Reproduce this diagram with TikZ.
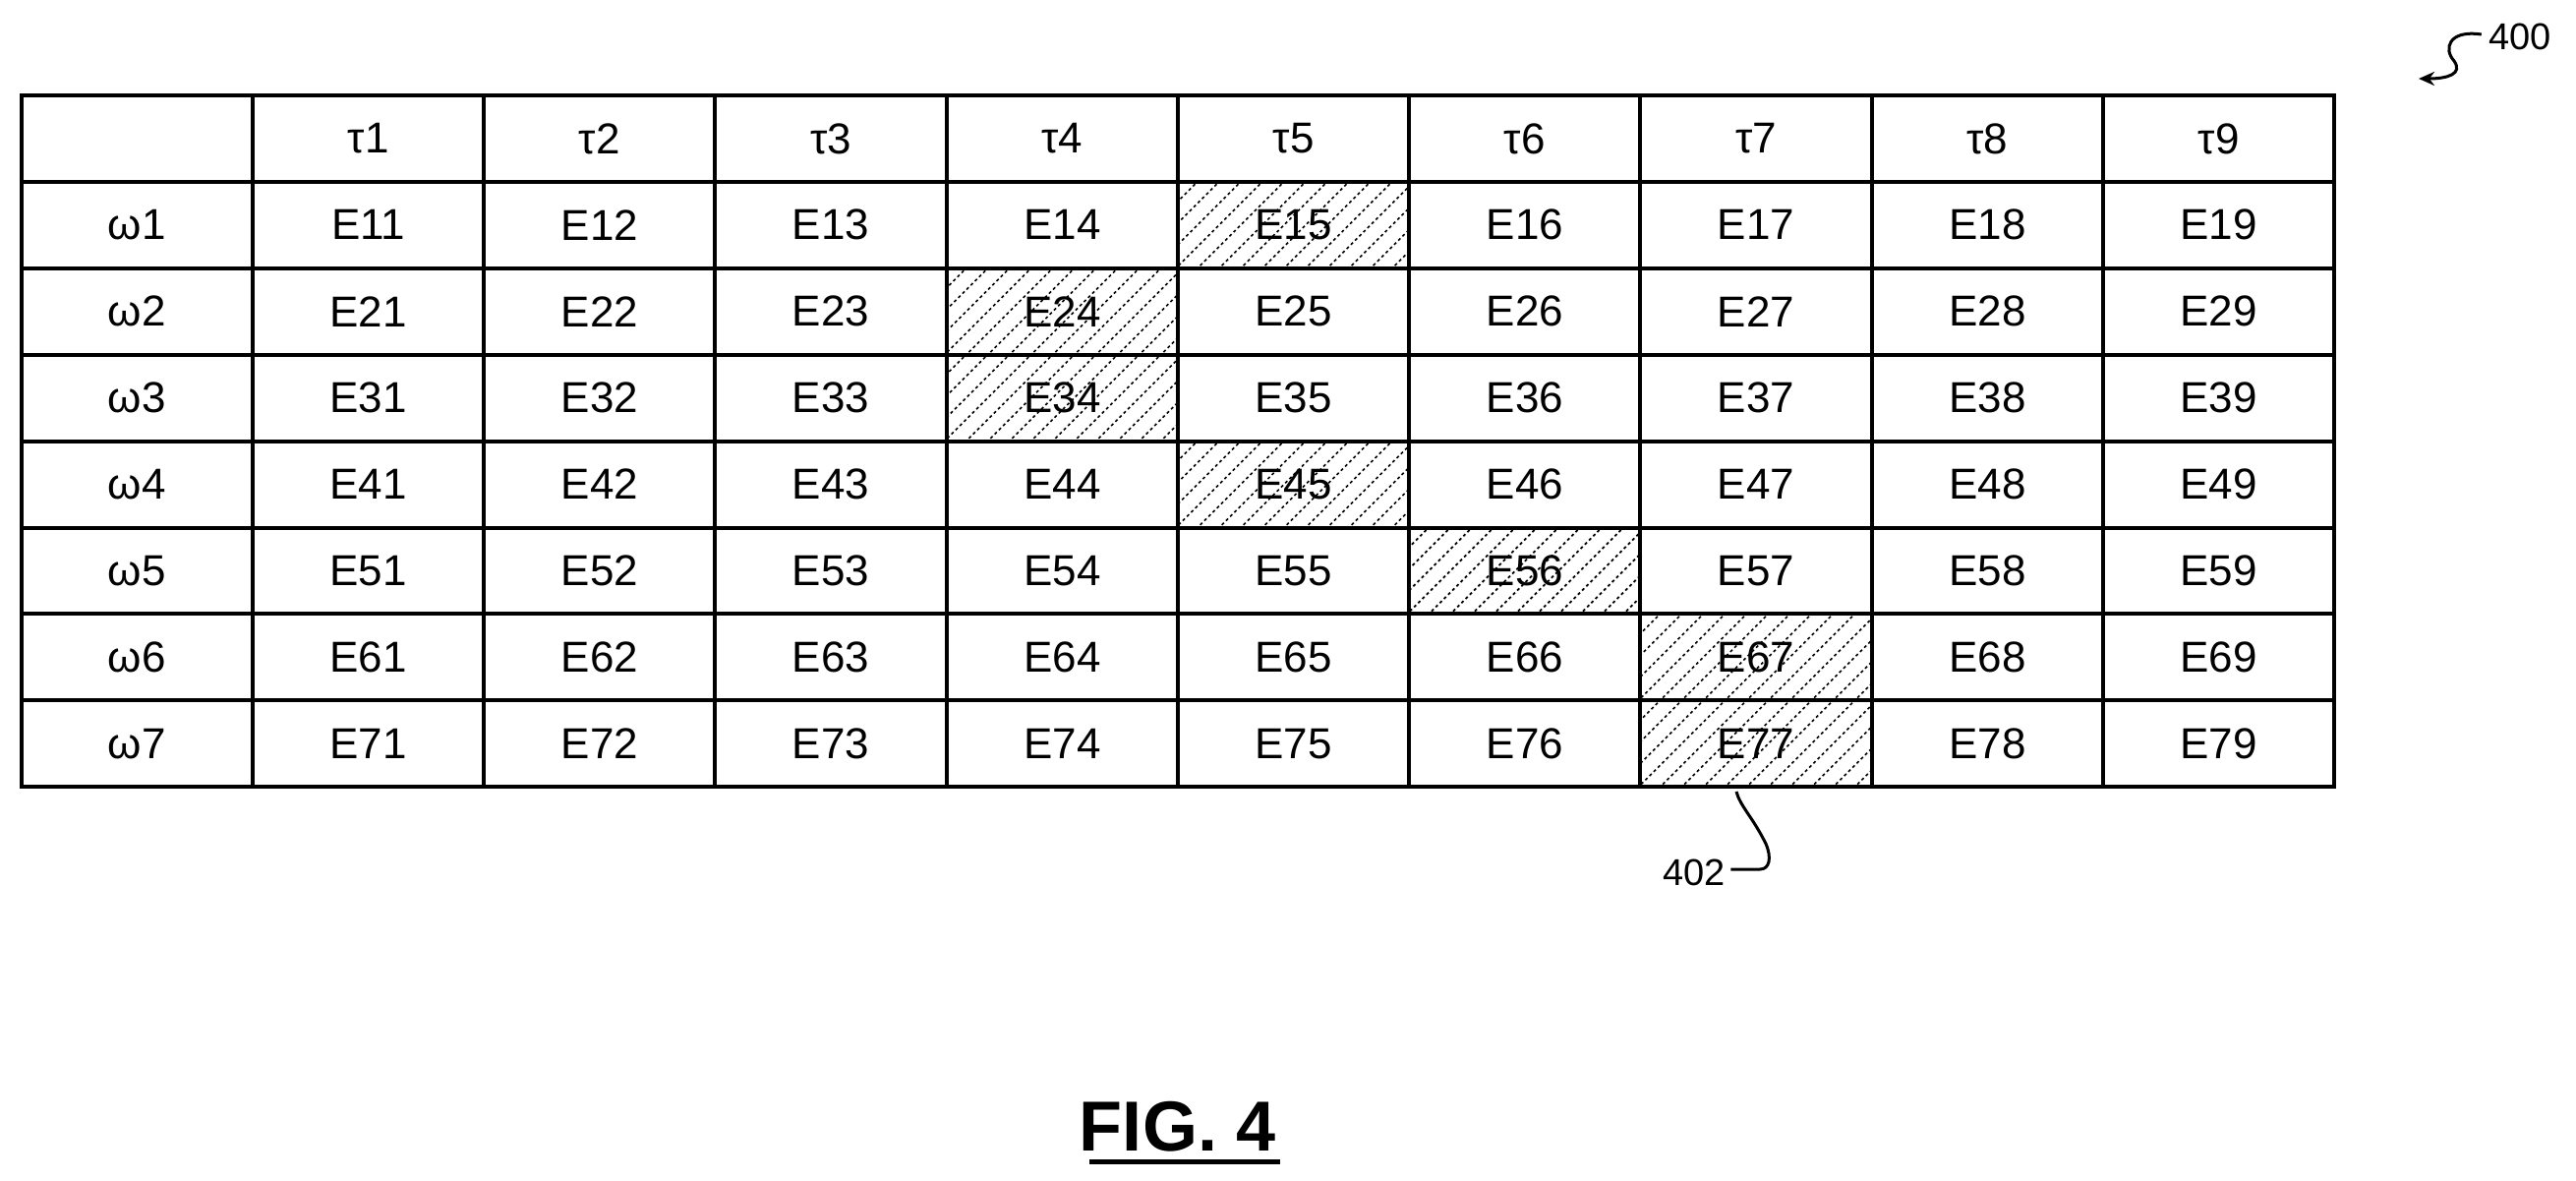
\documentclass[tikz,border=0pt]{standalone}
\usepackage{fontspec}
\setmainfont{Liberation Sans}
\usetikzlibrary{arrows.meta}
\begin{document}
\begin{tikzpicture}[x=1pt,y=-1pt,
  cell/.style={font=\fontsize{44}{48}\selectfont},
  grid/.style={line width=4pt},
  hatch/.style={line width=1.6pt,dash pattern=on 3pt off 3pt},
  lead/.style={line width=3pt}]
\useasboundingbox (0,0) rectangle (2620,1201);
\def\X{21.7}\def\Y{97}\def\W{235.25}\def\H{87.9}
% hatched cells
\foreach \r/\c in {1/5,2/4,3/4,4/5,5/6,6/7,7/7}{
  \begin{scope}
  \clip (\X+\c*\W,\Y+\r*\H) rectangle (\X+\c*\W+\W,\Y+\r*\H+\H);
  \foreach \k in {-8,...,16}{
    \draw[hatch] (\X+\c*\W+\k*22-100,\Y+\r*\H+\H+10) -- ++(120,-120);
  }
  \end{scope}
}
\foreach \i in {0,...,10}{\draw[grid] (\X+\i*\W,\Y) -- (\X+\i*\W,\Y+8*\H);}
\foreach \j in {0,...,8}{\draw[grid] (\X-2,\Y+\j*\H) -- (\X+10*\W+2,\Y+\j*\H);}
\foreach \c in {1,...,9}{\node[cell] (t\c) at (\X+\c*\W+\W/2,\Y+\H/2) {τ\c};}
\foreach \r in {1,...,7}{
  \node[cell] (w\r) at (\X+\W/2,\Y+\r*\H+\H/2) {ω\r};
  \foreach \c in {1,...,9}{\node[cell] (e\r\c) at (\X+\c*\W+\W/2,\Y+\r*\H+\H/2) {E\r\c};}
}
\node[font=\fontsize{38}{42}\selectfont] (l400) at (2563,37) {400};
\draw[lead,-{Stealth[length=16pt,width=14pt]}] (l400.west) ++(-4,-2) coordinate (a)
  .. controls (2490,30) and (2485,50) .. (2496,62) .. controls (2505,75) and (2490,80) .. (2460,80);
\node[font=\fontsize{38}{42}\selectfont] (l402) at (1723,887) {402};
\coordinate (c402) at (1766,805);
\draw[lead] (l402.east) ++(2,-3) -- (1790,884) .. controls (1800,884) and (1802,872) .. (1796,858) .. controls (1782,830) and (1770,820) .. (c402);
\node[font=\bfseries\fontsize{72}{76}\selectfont] (fig) at (1198,1146) {FIG. 4};
\draw[line width=5pt] ([yshift=-6pt]fig.south west)++(14,0) -- ([yshift=-6pt]fig.south east) ++(-14,0);
\end{tikzpicture}
\end{document}
